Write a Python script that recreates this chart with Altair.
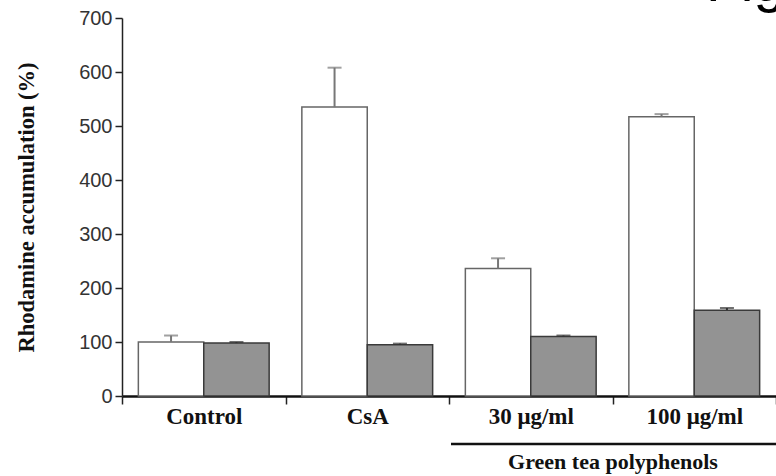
import altair as alt
import pandas as pd

categories = ["Control", "CsA", "30 μg/ml", "100 μg/ml"]
series = ["open", "filled"]
open_vals = [100, 535, 236, 517]
open_err = [12, 73, 19, 5]
filled_vals = [98, 95, 110, 159]
filled_err = [2, 2, 2, 4]
y_ticks = list(range(0, 701, 50))

rows = []
for i, c in enumerate(categories):
    rows.append({"cat": c, "s": "open", "v": open_vals[i], "top": open_vals[i] + open_err[i]})
    rows.append({"cat": c, "s": "filled", "v": filled_vals[i], "top": filled_vals[i] + filled_err[i]})
df = pd.DataFrame(rows)

serif = "Liberation Serif"
sans = "Liberation Sans"

x_enc = alt.X("cat:N", sort=categories,
              scale=alt.Scale(paddingInner=0, paddingOuter=0),
              axis=alt.Axis(title=None, tickBand="extent", tickSize=8, tickWidth=1.5,
                            tickColor="#222", domainColor="#111", domainWidth=2.5,
                            labelFont=serif, labelFontWeight="bold", labelFontSize=23,
                            labelColor="#111", labelPadding=1, labelAngle=0))
xo_enc = alt.XOffset("s:N", sort=series, scale=alt.Scale(paddingInner=0, paddingOuter=0.25))
y_scale = alt.Scale(domain=[0, 700], nice=False)

bars = alt.Chart(df).mark_bar(strokeWidth=1.5).encode(
    x=x_enc,
    xOffset=xo_enc,
    y=alt.Y("v:Q", scale=y_scale,
            axis=alt.Axis(values=y_ticks, title="Rhodamine accumulation (%)",
                          labelExpr="datum.value % 100 === 0 ? datum.label : ''",
                          tickSize=alt.expr("datum.value % 100 === 0 ? 7 : 4"),
                          tickWidth=1.5, tickColor="#222", domainColor="#222", domainWidth=1.5,
                          labelFont=sans, labelFontSize=20, labelColor="#333", labelPadding=3,
                          titleFont=serif, titleFontWeight="bold", titleFontSize=22.5,
                          titleColor="#111", titlePadding=40, grid=False)),
    fill=alt.Fill("s:N", scale=alt.Scale(domain=series, range=["#ffffff", "#939393"]), legend=None),
    stroke=alt.Stroke("s:N", scale=alt.Scale(domain=series, range=["#666666", "#3a3a3a"]), legend=None),
)

err = alt.Chart(df).mark_rule(strokeWidth=2).encode(
    x=alt.X("cat:N", sort=categories),
    xOffset=xo_enc,
    y=alt.Y("v:Q", scale=y_scale),
    y2="top:Q",
    color=alt.Color("s:N", scale=alt.Scale(domain=series, range=["#777777", "#333333"]), legend=None),
)

caps = alt.Chart(df).mark_tick(orient="horizontal", size=14, thickness=2).encode(
    x=alt.X("cat:N", sort=categories),
    xOffset=xo_enc,
    y=alt.Y("top:Q", scale=y_scale),
    color=alt.Color("s:N", scale=alt.Scale(domain=series, range=["#777777", "#333333"]), legend=None),
)

group_line = alt.Chart(pd.DataFrame({"a": [0]})).mark_rule(strokeWidth=2.5, color="#111").encode(
    x=alt.value(329), x2=alt.value(654), y=alt.value(426)
)
group_text = alt.Chart(pd.DataFrame({"t": ["Green tea polyphenols"]})).mark_text(
    font=serif, fontWeight="bold", fontSize=22, color="#111", align="center", baseline="middle"
).encode(text="t:N", x=alt.value(491), y=alt.value(444))

fig_text = alt.Chart(pd.DataFrame({"t": ["Fig"]})).mark_text(
    font=sans, fontSize=57, color="#000", align="left", baseline="alphabetic"
).encode(text="t:N", x=alt.value(584), y=alt.value(-17))

chart = alt.layer(bars, err, caps, group_line, group_text, fig_text).properties(
    width=654, height=378,
    autosize=alt.AutoSizeParams(type="none"),
    padding={"left": 122, "top": 18, "right": 0, "bottom": 80},
    background="white",
).configure_view(stroke=None)

chart.save("out.html", embed_options={"renderer": "svg", "actions": False})
